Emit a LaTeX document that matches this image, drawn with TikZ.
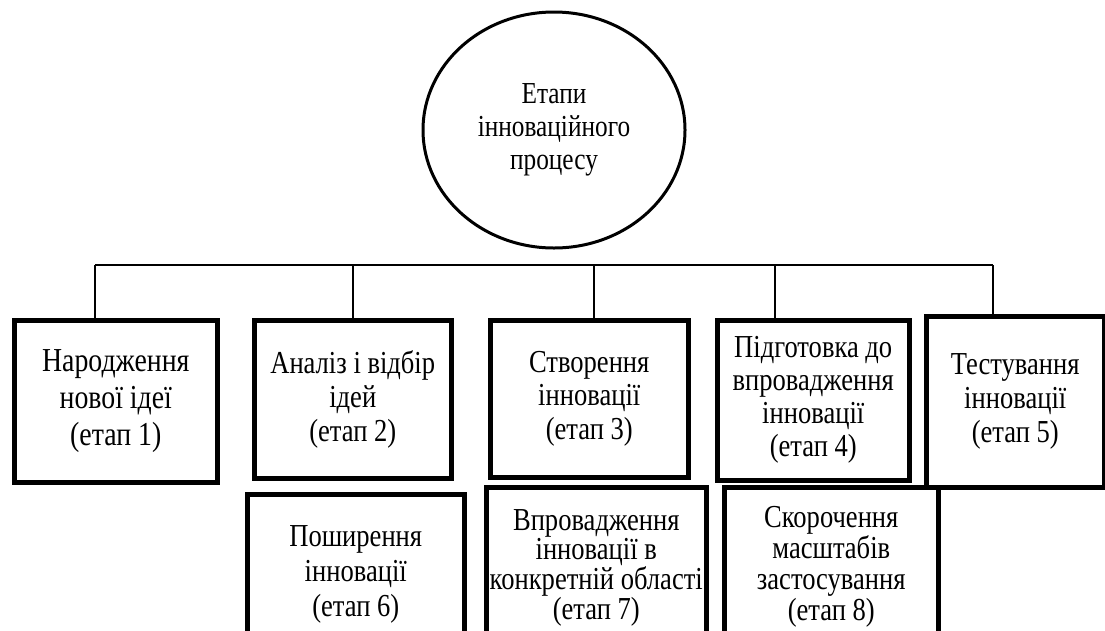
\documentclass[tikz,border=0pt]{standalone}
\usepackage{fontspec}
\setmainfont[FakeStretch=0.83]{Liberation Serif}
\usetikzlibrary{shapes.geometric}
\newcommand{\fsz}[1]{\fontsize{32}{#1}\selectfont}
\tikzset{
  stagebox/.style={draw, line width=4.5pt, rectangle, anchor=north west, align=center, inner sep=0pt},
  hubshape/.style={draw, line width=3pt, ellipse, align=center, inner sep=0pt,
    minimum width=262pt, minimum height=236pt, font=\fontsize{30.5}{33}\selectfont},
  bus/.style={line width=1.2pt},
}
\begin{document}
\begin{tikzpicture}[x=1pt,y=-1pt]
\clip (0,0) rectangle (1105,630);
\fill[white] (0,0) rectangle (1105,630);
\node[hubshape] (hub) at (554,130) {Етапи\\інноваційного\\процесу};
\node[stagebox, minimum width=203pt, minimum height=162pt, font=\fontsize{33.5}{37}\selectfont] (s1) at (12,318) {Народження\\нової ідеї\\(етап 1)};
\node[stagebox, minimum width=197pt, minimum height=158pt, font=\fsz{34}] (s2) at (252,318) {Аналіз і відбір\\ідей\\(етап 2)};
\node[stagebox, minimum width=198pt, minimum height=157pt, font=\fsz{33.5}] (s3) at (488,318) {Створення\\інновації\\(етап 3)};
\node[stagebox, minimum width=192pt, minimum height=160pt, font=\fsz{33}] (s4) at (715,318) {Підготовка до\\впровадження\\інновації\\(етап 4)};
\node[stagebox, minimum width=178pt, minimum height=171pt, font=\fsz{34}] (s5) at (924,314) {Тестування\\інновації\\(етап 5)};
\node[stagebox, minimum width=217pt, minimum height=161pt, font=\fsz{35}] (s6) at (245,492) {Поширення\\інновації\\(етап 6)};
\node[stagebox, minimum width=220pt, minimum height=162pt, font=\fsz{29}] (s7) at (484,485) {Впровадження\\інновації в\\конкретній області\\(етап 7)};
\node[stagebox, minimum width=214pt, minimum height=160pt, font=\fsz{31}] (s8) at (722,485) {Скорочення\\масштабів\\застосування\\(етап 8)};
\coordinate (b1) at (95,265);
\coordinate (b2) at (353,265);
\coordinate (b3) at (594,265);
\coordinate (b4) at (775,265);
\coordinate (b5) at (993,265);
\draw[bus] (b1) -- (b5);
\draw[bus] (b1) -- ([yshift=-4pt]b1 |- s1.north);
\draw[bus] (b2) -- ([yshift=-4pt]b2 |- s2.north);
\draw[bus] (b3) -- ([yshift=-4pt]b3 |- s3.north);
\draw[bus] (b4) -- ([yshift=-4pt]b4 |- s4.north);
\draw[bus] (b5) -- ([yshift=-4pt]b5 |- s5.north);
\end{tikzpicture}
\end{document}
